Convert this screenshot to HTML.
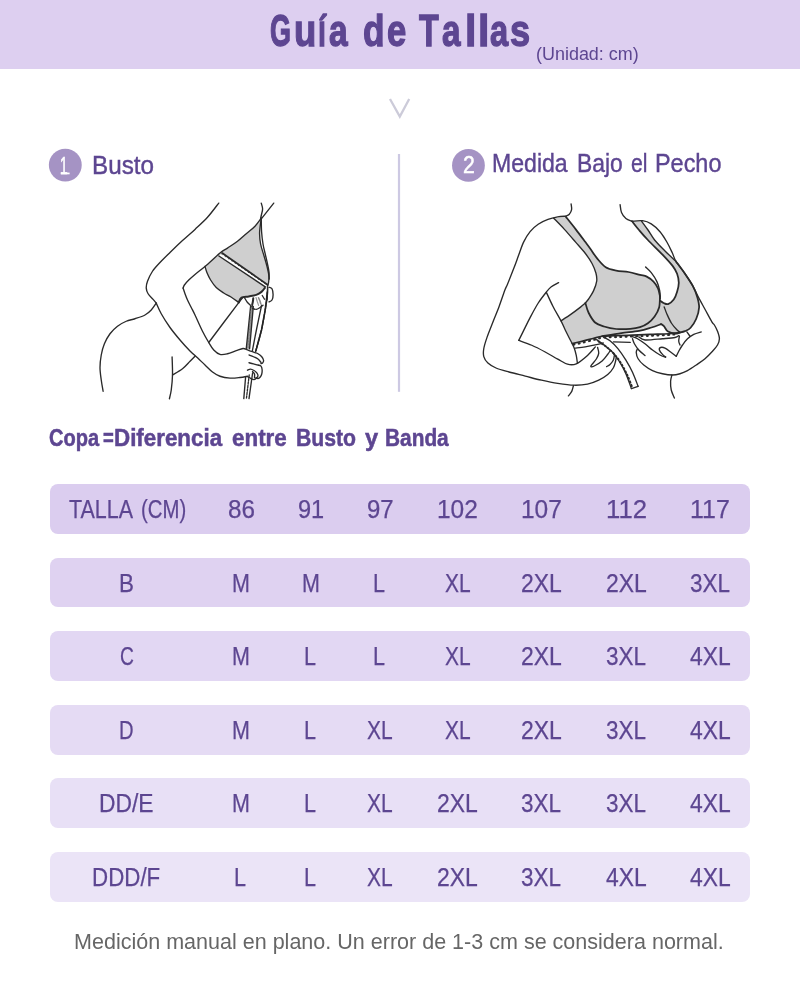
<!DOCTYPE html>
<html lang="es"><head><meta charset="utf-8"><title>Guía de Tallas</title>
<style>
html,body{margin:0;padding:0;background:#fff;}
body{width:800px;height:1000px;position:relative;overflow:hidden;font-family:"Liberation Sans",sans-serif;}
.band{position:absolute;left:0;top:0;width:800px;height:68.6px;background:#ddcff0;}
.t{position:absolute;white-space:nowrap;line-height:1;transform-origin:0 0;display:block;}
.row{position:absolute;left:50px;width:700px;height:49.6px;border-radius:8px;}
svg{position:absolute;left:0;top:0;}
.txt{position:absolute;left:0;top:0;width:800px;height:1000px;will-change:transform;}
</style></head><body>
<div class="band"></div>
<svg width="800" height="1000" viewBox="0 0 800 1000">
<path d="M390 99 L399.8 116.6 L409.2 99" fill="none" stroke="#cccbd9" stroke-width="2.3" stroke-linejoin="miter"/>
<circle cx="65.3" cy="165.1" r="16.45" fill="#a593c4"/>
<circle cx="468.45" cy="165.4" r="16.4" fill="#a593c4"/>
<rect x="60.8" y="172.6" width="8.8" height="1.7" fill="#fff"/>
<rect x="397.9" y="154" width="2.2" height="237.8" fill="#cdc9e3"/>
</svg>
<svg width="800" height="1000" viewBox="0 0 800 1000">
<path d="M261.25 218.10C260.21 219.46 257.50 223.64 255.00 226.25C252.50 228.86 249.17 231.25 246.25 233.75C243.33 236.25 240.62 238.86 237.50 241.25C234.38 243.64 230.42 246.12 227.50 248.10C224.58 250.07 223.75 250.03 220.00 253.10C216.25 256.17 207.50 264.27 205.00 266.50C205.32 267.50 205.97 270.25 206.90 272.50C207.83 274.75 209.04 277.50 210.60 280.00C212.16 282.50 214.06 285.33 216.25 287.50C218.44 289.67 221.29 291.42 223.75 293.00C226.21 294.58 228.50 295.43 231.00 297.00C233.50 298.57 237.46 301.50 238.75 302.40C239.21 301.60 239.83 298.60 241.50 297.60C243.17 296.60 246.29 296.85 248.75 296.40C251.21 295.95 254.12 295.65 256.25 294.90C258.38 294.15 260.07 293.05 261.50 291.90C262.93 290.75 264.25 288.65 264.80 288.00L267.3 286C267.52 285.42 268.36 284.33 268.60 282.50C268.84 280.67 269.03 277.75 268.75 275.00C268.47 272.25 267.73 269.33 266.90 266.00C266.07 262.67 264.80 258.67 263.75 255.00C262.70 251.33 261.29 247.75 260.60 244.00C259.91 240.25 259.49 236.82 259.60 232.50C259.71 228.18 260.98 220.50 261.25 218.10Z" fill="#cfcfcf" stroke="none"/>
<path d="M222.2 253.1L267.9 284.9L265.3 286.9L218.9 256Z" fill="#fff" stroke="none"/>
<path d="M250.6 306.4L246.25 348.75L249.6 348.75L253.3 306.4Z" fill="#9a9a9a"/>
<g fill="none" stroke="#2a2a2a" stroke-width="1.35" stroke-linecap="round" stroke-linejoin="round">
<path d="M218.75 203.10C216.88 205.47 211.46 212.92 207.50 217.30C203.54 221.68 199.17 225.52 195.00 229.40C190.83 233.28 186.67 236.75 182.50 240.60C178.33 244.45 173.75 248.85 170.00 252.50C166.25 256.15 162.92 259.38 160.00 262.50C157.08 265.62 154.58 268.12 152.50 271.25C150.42 274.38 148.54 278.44 147.50 281.25C146.46 284.06 146.15 286.02 146.25 288.10C146.35 290.18 146.96 291.87 148.10 293.75C149.24 295.63 151.74 297.84 153.10 299.40C154.46 300.96 155.72 302.48 156.25 303.10"/>
<path d="M156.25 303.10C157.08 304.88 158.96 309.68 161.25 313.75C163.54 317.82 166.88 323.12 170.00 327.50C173.12 331.88 176.67 336.08 180.00 340.00C183.33 343.92 187.08 348.03 190.00 351.00C192.92 353.97 195.00 355.47 197.50 357.80C200.00 360.13 202.50 362.63 205.00 365.00C207.50 367.37 210.00 370.12 212.50 372.00C215.00 373.88 217.08 375.23 220.00 376.25C222.92 377.27 226.67 377.89 230.00 378.10C233.33 378.31 237.08 377.81 240.00 377.50C242.92 377.19 246.25 376.46 247.50 376.25"/>
<path d="M156.25 303.10C155.42 304.25 153.12 308.02 151.25 310.00C149.38 311.98 147.71 313.54 145.00 315.00C142.29 316.46 138.12 317.71 135.00 318.75C131.88 319.79 129.17 320.00 126.25 321.25C123.33 322.50 120.21 324.17 117.50 326.25C114.79 328.33 112.18 330.83 110.00 333.75C107.82 336.67 105.86 340.21 104.40 343.75C102.94 347.29 101.98 351.04 101.25 355.00C100.52 358.96 100.00 363.33 100.00 367.50C100.00 371.67 100.73 376.04 101.25 380.00C101.77 383.96 102.79 389.38 103.10 391.25"/>
<path d="M261.25 218.10C260.21 219.46 257.50 223.64 255.00 226.25C252.50 228.86 249.17 231.25 246.25 233.75C243.33 236.25 240.62 238.86 237.50 241.25C234.38 243.64 230.42 246.12 227.50 248.10C224.58 250.07 223.75 250.03 220.00 253.10C216.25 256.17 209.17 262.95 205.00 266.50C200.83 270.05 197.71 272.15 195.00 274.40C192.29 276.65 190.52 278.23 188.75 280.00C186.98 281.77 185.34 283.65 184.40 285.00C183.46 286.35 183.32 287.58 183.10 288.10"/>
<path d="M183.10 288.10C183.42 289.04 184.27 291.77 185.00 293.75C185.73 295.73 186.46 297.71 187.50 300.00C188.54 302.29 190.00 305.00 191.25 307.50C192.50 310.00 193.12 311.04 195.00 315.00C196.88 318.96 200.21 326.67 202.50 331.25C204.79 335.83 206.88 339.38 208.75 342.50C210.62 345.62 211.88 348.02 213.75 350.00C215.62 351.98 217.71 353.77 220.00 354.40C222.29 355.02 224.79 354.38 227.50 353.75C230.21 353.12 233.67 351.48 236.25 350.60C238.83 349.73 241.25 348.67 243.00 348.50C244.75 348.33 245.50 349.17 246.75 349.60C248.00 350.03 249.12 350.60 250.50 351.10C251.88 351.60 253.75 352.16 255.00 352.60C256.25 353.04 256.88 353.06 258.00 353.75C259.12 354.44 260.82 355.62 261.75 356.75C262.68 357.88 263.48 359.44 263.60 360.50C263.73 361.56 262.93 362.60 262.50 363.10C262.07 363.60 261.25 363.43 261.00 363.50"/>
<path d="M243.60 297.20C242.79 298.10 244.56 295.05 238.75 302.60C232.94 310.15 213.75 335.85 208.75 342.50"/>
<path d="M172.10 356.90C172.17 359.92 172.64 369.48 172.50 375.00C172.36 380.52 171.77 386.04 171.25 390.00C170.73 393.96 169.71 397.29 169.40 398.75"/>
<path d="M172.50 375.00C174.17 373.96 179.58 371.04 182.50 368.75C185.42 366.46 187.92 363.33 190.00 361.25C192.08 359.17 194.17 357.08 195.00 356.25"/>
<path d="M261.25 203.10C261.48 204.04 262.54 206.93 262.60 208.75C262.66 210.57 261.93 212.38 261.60 214.00C261.27 215.62 260.77 217.75 260.60 218.50"/>
<path d="M273.75 203.10L261.50 218.60"/>
<path d="M261.25 218.10C260.98 220.50 259.71 228.18 259.60 232.50C259.49 236.82 259.91 240.25 260.60 244.00C261.29 247.75 262.70 251.33 263.75 255.00C264.80 258.67 266.07 262.67 266.90 266.00C267.73 269.33 268.47 272.25 268.75 275.00C269.03 277.75 268.84 280.67 268.60 282.50C268.36 284.33 267.52 285.42 267.30 286.00"/>
<path d="M261.25 218.10C261.31 220.42 261.31 227.68 261.60 232.00C261.89 236.32 262.43 240.50 263.00 244.00C263.57 247.50 264.25 249.67 265.00 253.00C265.75 256.33 266.83 260.83 267.50 264.00C268.17 267.17 268.72 269.50 269.00 272.00C269.28 274.50 269.17 277.83 269.20 279.00"/>
<path d="M205.00 266.50C205.32 267.50 205.97 270.25 206.90 272.50C207.83 274.75 209.04 277.50 210.60 280.00C212.16 282.50 214.06 285.33 216.25 287.50C218.44 289.67 221.29 291.42 223.75 293.00C226.21 294.58 228.50 295.43 231.00 297.00C233.50 298.57 237.46 301.50 238.75 302.40"/>
<path d="M238.75 302.40C239.21 301.60 239.83 298.60 241.50 297.60C243.17 296.60 246.29 296.85 248.75 296.40C251.21 295.95 254.12 295.65 256.25 294.90C258.38 294.15 260.07 293.05 261.50 291.90C262.93 290.75 264.25 288.65 264.80 288.00" stroke-width="2"/>
<path d="M250.60 306.40L246.25 348.75"/>
<path d="M253.30 306.40L249.60 348.75"/>
<path d="M245.60 377.00L243.80 398.60"/>
<path d="M252.60 373.00L249.00 398.60"/>
<path d="M267.60 287.00C267.53 288.75 267.60 293.67 267.20 297.50C266.80 301.33 266.15 304.58 265.20 310.00C264.25 315.42 263.10 323.07 261.50 330.00C259.90 336.93 256.58 348.00 255.60 351.60"/>
<path d="M261.60 305.25C260.77 309.21 258.13 321.44 256.60 329.00C255.07 336.56 253.10 347.00 252.40 350.60"/>
<path d="M249.00 354.90C249.75 355.21 252.00 356.07 253.50 356.75C255.00 357.43 256.75 358.06 258.00 359.00C259.25 359.94 260.50 361.83 261.00 362.40"/>
<path d="M249.00 362.75C249.75 362.94 252.00 363.52 253.50 363.90C255.00 364.27 256.75 364.63 258.00 365.00C259.25 365.37 260.32 365.35 261.00 366.10C261.68 366.85 261.98 368.18 262.10 369.50C262.23 370.82 262.06 372.75 261.75 374.00C261.44 375.25 260.88 376.25 260.25 377.00C259.62 377.75 258.71 378.40 258.00 378.50C257.29 378.60 256.33 377.75 256.00 377.60"/>
<path d="M247.50 370.20C248.00 370.03 249.42 369.15 250.50 369.20C251.58 369.25 252.95 369.90 254.00 370.50C255.05 371.10 256.13 371.92 256.80 372.80C257.47 373.68 258.03 374.93 258.00 375.80C257.97 376.67 256.83 377.63 256.60 378.00"/>
<path d="M252.50 371.50C252.83 371.92 254.17 373.00 254.50 374.00C254.83 375.00 254.50 376.92 254.50 377.50"/>
<path d="M247.50 376.60C247.83 376.75 248.83 377.10 249.50 377.50C250.17 377.90 251.17 378.75 251.50 379.00"/>
<path d="M251.50 379.00C251.92 379.10 253.15 379.77 254.00 379.60C254.85 379.43 256.17 378.27 256.60 378.00"/>
<path d="M244.60 297.80C245.08 298.58 246.31 301.07 247.50 302.50C248.69 303.93 251.04 305.75 251.75 306.40"/>
<path d="M252.50 308.25C253.12 308.44 255.00 309.52 256.25 309.40C257.50 309.27 258.88 308.19 260.00 307.50C261.12 306.81 262.50 305.62 263.00 305.25"/>
<path d="M269.00 287.25C269.50 287.50 271.32 287.50 272.00 288.75C272.68 290.00 273.10 292.88 273.10 294.75C273.10 296.62 272.68 298.81 272.00 300.00C271.32 301.19 269.50 301.58 269.00 301.90"/>
<path d="M262.25 295.50L264.50 299.25"/>
<path d="M267.60 287.00C267.57 288.17 267.52 291.83 267.40 294.00C267.28 296.17 266.98 299.00 266.90 300.00"/>
<path d="M251.75 306.40C251.93 305.67 252.55 303.37 252.80 302.00C253.05 300.63 253.18 298.83 253.25 298.20" stroke-width="2"/>
<path d="M258.5 297.75L260 301L260.75 303.8" stroke="#8a8a8a" stroke-width="1.6"/>
<path d="M256 297.5L257.4 302L258.6 305.4" stroke="#9a9a9a" stroke-width="1.2"/>
<path d="M222.20 253.10L267.90 284.90" stroke-width="1.8"/>
<path d="M218.90 256.00L265.30 286.90" stroke-width="1.4"/>
<path d="M221.6 254.0L267.4 285.4" stroke-width="0.9" stroke-dasharray="0.8 3.2" stroke="#333"/>
<path d="M251.4 305L247.9 348.75" stroke-width="0.9" stroke-dasharray="1 2" stroke="#777"/>
<path d="M267.3 292L265.2 310L261.5 330L255.8 351" stroke-width="1.6" stroke-dasharray="2.2 1" stroke="#222"/>
<path d="M249.2 375L246.4 398.6" stroke-width="1.3" stroke-dasharray="2.2 1.3" stroke="#2a2a2a"/>
</g></svg>
<svg width="800" height="1000" viewBox="0 0 800 1000">
<path d="M553.70 218.20C555.45 220.02 560.55 225.12 564.20 229.10C567.85 233.08 572.07 238.03 575.60 242.10C579.13 246.17 582.68 249.97 585.40 253.50C588.12 257.03 590.15 260.05 591.90 263.30C593.65 266.55 595.10 270.03 595.90 273.00C596.70 275.97 597.10 278.12 596.70 281.10C596.30 284.08 594.85 287.92 593.50 290.90C592.15 293.88 589.95 296.98 588.60 299.00C587.25 301.02 585.93 302.33 585.40 303.00C584.58 303.68 582.94 305.20 580.50 307.10C578.06 309.00 574.00 312.10 570.75 314.40C567.50 316.70 562.62 319.82 561.00 320.90L565 329.5L569.5 338.5L572.3 343.6C573.90 343.22 578.43 342.15 581.90 341.30C585.37 340.45 589.73 339.34 593.10 338.50C596.47 337.66 600.60 336.62 602.10 336.25C605.30 335.74 615.13 334.09 621.30 333.20C627.47 332.31 634.07 331.85 639.10 330.90C644.13 329.95 647.83 328.63 651.50 327.50C655.17 326.37 659.50 324.67 661.10 324.10C661.57 324.43 662.75 324.85 663.90 326.10C665.05 327.35 665.93 330.33 668.00 331.60C670.07 332.87 674.40 333.53 676.30 333.70C678.20 333.87 678.88 332.78 679.40 332.60C680.33 332.35 683.13 331.91 685.00 331.10C686.87 330.29 688.73 329.81 690.60 327.75C692.48 325.69 694.83 322.12 696.25 318.75C697.67 315.38 698.91 311.06 699.10 307.50C699.29 303.94 698.43 300.97 697.40 297.40C696.37 293.83 694.97 290.04 692.90 286.10C690.83 282.16 687.82 277.87 685.00 273.75C682.18 269.63 677.50 263.46 676.00 261.40C674.17 259.67 668.57 254.57 665.00 251.00C661.43 247.43 657.43 243.50 654.60 240.00C651.77 236.50 650.17 233.12 648.00 230.00C645.83 226.88 642.67 222.71 641.60 221.25L632 221.25C633.17 222.71 636.35 226.88 639.00 230.00C641.65 233.12 643.98 235.90 647.90 240.00C651.82 244.10 658.38 250.28 662.50 254.60C666.62 258.92 670.17 262.71 672.60 265.90C675.03 269.09 676.07 270.94 677.10 273.75C678.13 276.56 678.80 279.75 678.80 282.75C678.80 285.75 677.94 288.94 677.10 291.75C676.26 294.56 675.25 297.54 673.75 299.60C672.25 301.66 669.79 303.53 668.10 304.10C666.41 304.67 664.91 303.56 663.60 303.00C662.29 302.44 660.81 301.12 660.25 300.75L660 296.25C659.67 294.94 659.08 290.84 658.00 288.40C656.92 285.96 655.38 283.57 653.50 281.60C651.62 279.63 649.00 277.72 646.75 276.60C644.50 275.48 643.04 275.67 640.00 274.90C636.96 274.13 632.46 272.72 628.50 272.00C624.54 271.28 620.04 271.40 616.25 270.60C612.46 269.80 608.91 269.20 605.75 267.20C602.59 265.20 599.88 261.68 597.30 258.60C594.72 255.52 592.28 251.45 590.30 248.70C588.32 245.95 587.85 245.37 585.40 242.10C582.95 238.83 578.85 233.30 575.60 229.10C572.35 224.90 567.52 218.93 565.90 216.90L553.7 218.2Z" fill="#cfcfcf" stroke="none"/>
<path d="M602.10 336.25C603.42 337.00 607.37 338.69 610.00 340.75C612.63 342.81 615.27 345.41 617.90 348.60C620.52 351.79 623.32 355.96 625.75 359.90C628.18 363.84 630.44 367.85 632.50 372.25C634.56 376.65 637.17 383.96 638.10 386.30L631.4 388.6C630.46 386.07 627.82 378.00 625.75 373.40C623.68 368.80 621.25 364.57 619.00 361.00C616.75 357.43 614.68 354.62 612.25 352.00C609.82 349.38 607.02 347.32 604.40 345.25C601.77 343.18 597.82 340.54 596.50 339.60Z" fill="#fff" stroke="none"/>
<path d="M632.5 335.1L650 334.4L668.75 333.75L679.4 332.6L678.75 335.6L675 337.5L662.5 338.75L645 340L638.75 336.9Z" fill="#fff" stroke="none"/>
<g fill="none" stroke="#2a2a2a" stroke-width="1.35" stroke-linecap="round" stroke-linejoin="round">
<path d="M571.10 203.90C571.18 204.85 571.93 207.83 571.60 209.60C571.27 211.37 570.05 213.42 569.10 214.50C568.15 215.58 566.43 215.83 565.90 216.10"/>
<path d="M565.90 216.10C564.53 216.23 560.68 216.35 557.70 216.90C554.72 217.45 551.25 218.18 548.00 219.40C544.75 220.62 541.18 222.17 538.20 224.20C535.22 226.23 532.53 228.62 530.10 231.60C527.67 234.58 525.50 238.18 523.60 242.10C521.70 246.02 520.32 250.77 518.70 255.10C517.08 259.43 515.78 263.22 513.90 268.10C512.02 272.98 508.90 280.75 507.40 284.40C505.90 288.05 506.27 286.36 504.90 290.00C503.53 293.64 501.22 300.83 499.20 306.25C497.18 311.67 494.77 317.36 492.75 322.50C490.73 327.64 488.59 332.77 487.10 337.10C485.61 341.43 484.35 345.25 483.80 348.50C483.25 351.75 483.12 354.17 483.80 356.60C484.48 359.03 485.87 361.20 487.90 363.10C489.93 365.00 492.48 366.52 496.00 368.00C499.52 369.48 504.12 370.65 509.00 372.00C513.88 373.35 519.83 374.73 525.25 376.10C530.67 377.47 536.08 378.98 541.50 380.20C546.92 381.42 552.33 382.57 557.75 383.40C563.17 384.23 569.04 385.08 574.00 385.20C578.96 385.32 583.38 384.95 587.50 384.10C591.62 383.25 595.38 381.70 598.75 380.10C602.12 378.50 605.31 376.56 607.75 374.50C610.19 372.44 612.09 370.00 613.40 367.75C614.71 365.50 615.13 362.69 615.60 361.00C616.07 359.31 616.10 358.17 616.20 357.60"/>
<path d="M553.70 218.20C555.45 220.02 560.55 225.12 564.20 229.10C567.85 233.08 572.07 238.03 575.60 242.10C579.13 246.17 582.68 249.97 585.40 253.50C588.12 257.03 590.15 260.05 591.90 263.30C593.65 266.55 595.10 270.03 595.90 273.00C596.70 275.97 597.10 278.12 596.70 281.10C596.30 284.08 594.85 287.92 593.50 290.90C592.15 293.88 589.95 296.98 588.60 299.00C587.25 301.02 585.93 302.33 585.40 303.00"/>
<path d="M585.40 303.00C584.58 303.68 582.94 305.20 580.50 307.10C578.06 309.00 574.00 312.10 570.75 314.40C567.50 316.70 562.62 319.82 561.00 320.90"/>
<path d="M565.90 216.90C567.52 218.93 572.35 224.90 575.60 229.10C578.85 233.30 582.95 238.83 585.40 242.10C587.85 245.37 588.32 245.95 590.30 248.70C592.28 251.45 594.72 255.52 597.30 258.60C599.88 261.68 602.59 265.20 605.75 267.20C608.91 269.20 612.46 269.80 616.25 270.60C620.04 271.40 624.54 271.28 628.50 272.00C632.46 272.72 636.96 274.13 640.00 274.90C643.04 275.67 644.50 275.48 646.75 276.60C649.00 277.72 651.62 279.63 653.50 281.60C655.38 283.57 656.92 285.96 658.00 288.40C659.08 290.84 659.67 294.94 660.00 296.25" stroke-width="1.75"/>
<path d="M660.00 296.25C659.85 298.12 660.00 304.12 659.10 307.50C658.20 310.88 656.47 313.88 654.60 316.50C652.73 319.12 650.33 321.47 647.90 323.25C645.47 325.03 642.94 326.26 640.00 327.20C637.06 328.14 634.21 328.60 630.25 328.90C626.29 329.20 620.62 329.40 616.25 329.00C611.88 328.60 607.52 327.58 604.00 326.50C600.48 325.42 597.67 324.79 595.10 322.50C592.53 320.21 590.22 316.00 588.60 312.75C586.98 309.50 585.93 304.62 585.40 303.00" stroke-width="1.75"/>
<path d="M645.60 267.00C646.54 267.93 649.37 270.17 651.25 272.60C653.13 275.03 655.49 278.60 656.90 281.60C658.31 284.60 659.14 287.78 659.70 290.60C660.26 293.42 660.16 297.18 660.25 298.50"/>
<path d="M558.60 282.70C557.38 283.38 553.33 285.25 551.30 286.80C549.27 288.35 548.57 289.30 546.40 292.00C544.23 294.70 540.97 298.73 538.25 303.00C535.53 307.27 532.54 313.00 530.10 317.60C527.66 322.20 525.49 326.80 523.60 330.60C521.71 334.40 519.56 338.77 518.75 340.40"/>
<path d="M546.40 292.40C547.48 294.71 550.47 301.50 552.90 306.25C555.33 311.00 558.98 317.02 561.00 320.90C563.02 324.77 563.58 326.57 565.00 329.50C566.42 332.43 568.00 335.50 569.50 338.50C571.00 341.50 572.88 344.68 574.00 347.50C575.12 350.32 575.68 352.77 576.25 355.40C576.82 358.02 577.21 361.94 577.40 363.25"/>
<path d="M518.75 340.40C520.92 341.21 527.42 343.36 531.75 345.25C536.08 347.14 540.42 349.44 544.75 351.75C549.08 354.06 553.96 357.03 557.75 359.10C561.54 361.18 564.42 363.42 567.50 364.20C570.58 364.98 572.92 365.27 576.25 363.80C579.58 362.33 584.31 358.22 587.50 355.40C590.69 352.58 594.08 348.32 595.40 346.90"/>
<path d="M573.40 385.75C573.12 386.69 572.58 389.71 571.75 391.40C570.92 393.09 568.96 395.15 568.40 395.90"/>
<path d="M572.30 343.60C573.90 343.22 578.43 342.15 581.90 341.30C585.37 340.45 589.73 339.34 593.10 338.50C596.47 337.66 598.35 336.72 602.10 336.25C605.85 335.78 610.53 335.89 615.60 335.70C620.67 335.51 626.77 335.32 632.50 335.10C638.23 334.88 643.96 334.62 650.00 334.40C656.04 334.17 663.85 334.05 668.75 333.75C673.65 333.45 677.62 332.79 679.40 332.60" stroke-width="1.75"/>
<path d="M602.10 336.25C605.30 335.74 615.13 334.09 621.30 333.20C627.47 332.31 634.07 331.85 639.10 330.90C644.13 329.95 647.83 328.63 651.50 327.50C655.17 326.37 659.50 324.67 661.10 324.10" stroke-width="1.75"/>
<path d="M661.10 324.10C661.57 324.43 662.75 324.85 663.90 326.10C665.05 327.35 665.93 330.33 668.00 331.60C670.07 332.87 674.40 333.53 676.30 333.70C678.20 333.87 678.88 332.78 679.40 332.60" stroke-width="1.75"/>
<path d="M632.00 221.25C633.17 222.71 636.35 226.88 639.00 230.00C641.65 233.12 643.98 235.90 647.90 240.00C651.82 244.10 658.38 250.28 662.50 254.60C666.62 258.92 670.17 262.71 672.60 265.90C675.03 269.09 676.07 270.94 677.10 273.75C678.13 276.56 678.80 279.75 678.80 282.75C678.80 285.75 677.94 288.94 677.10 291.75C676.26 294.56 675.25 297.54 673.75 299.60C672.25 301.66 669.79 303.53 668.10 304.10C666.41 304.67 664.91 303.56 663.60 303.00C662.29 302.44 660.81 301.12 660.25 300.75" stroke-width="1.75"/>
<path d="M641.60 221.25C642.67 222.71 645.83 226.88 648.00 230.00C650.17 233.12 651.77 236.50 654.60 240.00C657.43 243.50 661.43 247.43 665.00 251.00C668.57 254.57 674.17 259.67 676.00 261.40"/>
<path d="M676.00 261.40C677.50 263.46 682.18 269.63 685.00 273.75C687.82 277.87 690.83 282.16 692.90 286.10C694.97 290.04 696.37 293.83 697.40 297.40C698.43 300.97 699.29 303.94 699.10 307.50C698.91 311.06 697.67 315.38 696.25 318.75C694.83 322.12 692.48 325.69 690.60 327.75C688.73 329.81 686.87 330.29 685.00 331.10C683.13 331.91 680.33 332.35 679.40 332.60" stroke-width="1.75"/>
<path d="M664.20 306.90C664.67 308.12 665.78 311.52 667.00 314.25C668.22 316.98 669.82 320.62 671.50 323.25C673.18 325.88 675.60 328.46 677.10 330.00C678.60 331.54 679.93 332.08 680.50 332.50"/>
<path d="M620.10 204.60C620.33 205.92 620.53 210.17 621.50 212.50C622.47 214.83 624.15 217.14 625.90 218.60C627.65 220.06 630.98 220.81 632.00 221.25"/>
<path d="M632.00 221.25C633.75 221.16 639.29 220.26 642.50 220.70C645.71 221.14 648.33 222.06 651.25 223.90C654.17 225.74 657.38 228.69 660.00 231.75C662.62 234.81 664.96 238.75 667.00 242.25C669.04 245.75 670.75 249.56 672.25 252.75C673.75 255.94 673.88 257.90 676.00 261.40C678.12 264.90 682.18 269.63 685.00 273.75C687.82 277.87 690.65 282.16 692.90 286.10C695.15 290.04 696.44 293.46 698.50 297.40C700.56 301.34 703.00 305.63 705.25 309.75C707.50 313.87 710.48 319.56 712.00 322.10C713.52 324.64 713.48 323.48 714.40 325.00C715.32 326.52 716.67 328.96 717.50 331.25C718.33 333.54 719.40 336.46 719.40 338.75C719.40 341.04 718.65 342.92 717.50 345.00C716.35 347.08 714.58 348.96 712.50 351.25C710.42 353.54 707.71 356.46 705.00 358.75C702.29 361.04 699.17 363.02 696.25 365.00C693.33 366.98 690.21 369.14 687.50 370.60C684.79 372.06 682.50 373.02 680.00 373.75C677.50 374.48 675.42 375.00 672.50 375.00C669.58 375.00 665.83 374.48 662.50 373.75C659.17 373.02 655.62 372.06 652.50 370.60C649.38 369.14 646.15 366.98 643.75 365.00C641.35 363.02 639.35 360.83 638.10 358.75C636.85 356.67 636.35 354.17 636.25 352.50C636.15 350.83 637.29 349.38 637.50 348.75"/>
<path d="M671.90 375.00C671.68 376.04 670.71 378.75 670.60 381.25C670.49 383.75 670.62 387.19 671.25 390.00C671.88 392.81 673.88 396.75 674.40 398.10"/>
<path d="M701.25 331.90C700.00 332.32 696.04 333.26 693.75 334.40C691.46 335.54 689.38 336.98 687.50 338.75C685.62 340.52 683.96 342.92 682.50 345.00C681.04 347.08 679.79 349.38 678.75 351.25C677.71 353.12 676.67 355.42 676.25 356.25"/>
<path d="M676.25 356.25C675.42 355.62 673.12 353.86 671.25 352.50C669.38 351.14 666.77 348.93 665.00 348.10C663.23 347.27 661.53 347.18 660.60 347.50C659.67 347.82 659.08 348.85 659.40 350.00C659.72 351.15 661.47 353.25 662.50 354.40C663.53 355.55 665.08 356.48 665.60 356.90"/>
<path d="M633.10 336.90C633.83 337.21 635.52 337.61 637.50 338.75C639.48 339.89 642.50 341.88 645.00 343.75C647.50 345.62 650.00 348.12 652.50 350.00C655.00 351.88 657.82 353.79 660.00 355.00C662.18 356.21 664.67 356.88 665.60 357.25"/>
<path d="M632.50 338.75C632.82 339.58 633.36 341.88 634.40 343.75C635.44 345.62 636.98 348.02 638.75 350.00C640.52 351.98 643.96 354.67 645.00 355.60"/>
<path d="M679.40 336.25C679.29 337.08 678.65 339.79 678.75 341.25C678.85 342.71 679.79 344.38 680.00 345.00"/>
<path d="M686.90 331.90L690.00 336.25"/>
<path d="M575.10 348.10C576.79 347.90 581.68 347.47 585.25 346.90C588.82 346.33 593.50 345.35 596.50 344.70C599.50 344.05 602.12 343.28 603.25 343.00"/>
<path d="M602.10 336.25C603.42 337.00 607.37 338.69 610.00 340.75C612.63 342.81 615.27 345.41 617.90 348.60C620.52 351.79 623.32 355.96 625.75 359.90C628.18 363.84 630.44 367.85 632.50 372.25C634.56 376.65 637.17 383.96 638.10 386.30"/>
<path d="M596.50 339.60C597.82 340.54 601.77 343.18 604.40 345.25C607.02 347.32 609.82 349.38 612.25 352.00C614.68 354.62 616.75 357.43 619.00 361.00C621.25 364.57 623.68 368.80 625.75 373.40C627.82 378.00 630.46 386.07 631.40 388.60"/>
<path d="M631.40 388.60L638.10 386.30"/>
<path d="M613.40 341.90L630.25 342.40"/>
<path d="M638.75 336.90C639.79 337.42 641.04 339.69 645.00 340.00C648.96 340.31 657.50 339.17 662.50 338.75C667.50 338.33 672.29 338.02 675.00 337.50C677.71 336.98 678.12 335.92 678.75 335.60"/>
<path d="M597.60 347.50C597.79 348.43 598.93 351.23 598.75 353.10C598.57 354.98 597.62 356.87 596.50 358.75C595.38 360.63 592.93 363.09 592.00 364.40C591.07 365.71 590.52 366.33 590.90 366.60C591.27 366.87 592.38 366.93 594.25 366.00C596.12 365.07 599.85 362.96 602.10 361.00C604.35 359.04 606.43 355.93 607.75 354.25C609.07 352.57 609.62 351.46 610.00 350.90"/>
<path d="M614.50 354.25C614.32 355.19 614.15 358.21 613.40 359.90C612.65 361.59 611.13 363.28 610.00 364.40C608.87 365.52 607.17 366.23 606.60 366.60"/>
<path d="M573.60 344.70C575.10 344.35 579.27 343.40 582.60 342.60C585.93 341.80 590.27 340.73 593.60 339.90C596.93 339.07 598.87 338.08 602.60 337.60C606.33 337.12 611.02 337.20 616.00 337.00C620.98 336.80 626.83 336.62 632.50 336.40C638.17 336.18 644.08 335.93 650.00 335.70C655.92 335.47 663.50 335.28 668.00 335.00C672.50 334.72 675.50 334.17 677.00 334.00" stroke-width="2.2" stroke-dasharray="0.9 4.4"/>
<path d="M598.50 341.40C599.75 342.27 603.48 344.60 606.00 346.60C608.52 348.60 611.20 350.80 613.60 353.40C616.00 356.00 618.17 358.70 620.40 362.20C622.63 365.70 625.00 370.17 627.00 374.40C629.00 378.63 631.50 385.40 632.40 387.60" stroke-width="1.9" stroke-dasharray="1.3 2.4"/>
</g></svg>
<div class="row" style="top:484.2px;background:#dbcdef"></div>
<div class="row" style="top:557.9px;background:#dfd2f1"></div>
<div class="row" style="top:631.3px;background:#e2d7f3"></div>
<div class="row" style="top:705.0px;background:#e5dbf4"></div>
<div class="row" style="top:778.2px;background:#e8e0f6"></div>
<div class="row" style="top:852.0px;background:#ebe4f7"></div>
<div class="txt">
<span class="t" style="left:535.66px;top:45.83px;font-size:17.68px;font-weight:400;color:#5d4691;transform:scaleX(1.0155)">(Unidad: cm)</span>
<span class="t" style="left:91.59px;top:153.38px;font-size:25.36px;font-weight:400;color:#5d4691;transform:scaleX(0.9575);-webkit-text-stroke:0.40px #5d4691">Busto</span>
<span class="t" style="left:492.38px;top:151.38px;font-size:25.36px;font-weight:400;color:#5d4691;transform:scaleX(0.9100);-webkit-text-stroke:0.40px #5d4691">Medida</span>
<span class="t" style="left:576.59px;top:151.38px;font-size:25.36px;font-weight:400;color:#5d4691;transform:scaleX(0.9013);-webkit-text-stroke:0.40px #5d4691">Bajo</span>
<span class="t" style="left:631.41px;top:151.38px;font-size:25.36px;font-weight:400;color:#5d4691;transform:scaleX(0.8317);-webkit-text-stroke:0.40px #5d4691">el</span>
<span class="t" style="left:655.25px;top:151.38px;font-size:25.36px;font-weight:400;color:#5d4691;transform:scaleX(0.9235);-webkit-text-stroke:0.40px #5d4691">Pecho</span>
<span class="t" style="left:60.41px;top:154.38px;font-size:23.77px;font-weight:400;color:#ffffff;transform:scaleX(0.5805);-webkit-text-stroke:0.60px #ffffff">1</span>
<span class="t" style="left:463.23px;top:154.35px;font-size:23.62px;font-weight:400;color:#ffffff;transform:scaleX(0.8986);-webkit-text-stroke:0.50px #ffffff">2</span>
<span class="t" style="left:48.69px;top:426.60px;font-size:23.33px;font-weight:700;color:#5d4691;transform:scaleX(0.8583);-webkit-text-stroke:0.50px #5d4691">Copa</span>
<span class="t" style="left:103.42px;top:426.60px;font-size:23.33px;font-weight:700;color:#5d4691;transform:scaleX(0.7900);-webkit-text-stroke:0.50px #5d4691">=</span>
<span class="t" style="left:114.44px;top:426.60px;font-size:23.33px;font-weight:700;color:#5d4691;transform:scaleX(0.9579);-webkit-text-stroke:0.50px #5d4691">Diferencia</span>
<span class="t" style="left:232.14px;top:426.60px;font-size:23.33px;font-weight:700;color:#5d4691;transform:scaleX(0.9601);-webkit-text-stroke:0.50px #5d4691">entre</span>
<span class="t" style="left:296.00px;top:426.60px;font-size:23.33px;font-weight:700;color:#5d4691;transform:scaleX(0.9086);-webkit-text-stroke:0.50px #5d4691">Busto</span>
<span class="t" style="left:364.85px;top:426.60px;font-size:23.33px;font-weight:700;color:#5d4691;transform:scaleX(1.0128);-webkit-text-stroke:0.50px #5d4691">y</span>
<span class="t" style="left:385.42px;top:426.60px;font-size:23.33px;font-weight:700;color:#5d4691;transform:scaleX(0.8936);-webkit-text-stroke:0.50px #5d4691">Banda</span>
<span class="t" style="left:74.42px;top:929.92px;font-size:22.90px;font-weight:400;color:#666666;transform:scaleX(0.9404)">Medición manual en plano. Un error de 1-3 cm se considera normal.</span>
<span class="t" style="left:270.15px;top:8.92px;font-size:44.93px;font-weight:700;color:#5d4691;transform:scaleX(0.5996);-webkit-text-stroke:1.30px #5d4691">G</span>
<span class="t" style="left:293.92px;top:8.92px;font-size:44.93px;font-weight:700;color:#5d4691;transform:scaleX(0.8122);-webkit-text-stroke:1.30px #5d4691">u</span>
<span class="t" style="left:318.48px;top:8.92px;font-size:44.93px;font-weight:700;color:#5d4691;transform:scaleX(0.6347);-webkit-text-stroke:1.30px #5d4691">í</span>
<span class="t" style="left:329.36px;top:8.92px;font-size:44.93px;font-weight:700;color:#5d4691;transform:scaleX(0.7460);-webkit-text-stroke:1.30px #5d4691">a</span>
<span class="t" style="left:363.31px;top:8.92px;font-size:44.93px;font-weight:700;color:#5d4691;transform:scaleX(0.7848);-webkit-text-stroke:1.30px #5d4691">d</span>
<span class="t" style="left:386.72px;top:8.92px;font-size:44.93px;font-weight:700;color:#5d4691;transform:scaleX(0.7701);-webkit-text-stroke:1.30px #5d4691">e</span>
<span class="t" style="left:419.47px;top:8.92px;font-size:44.93px;font-weight:700;color:#5d4691;transform:scaleX(0.7183);-webkit-text-stroke:1.30px #5d4691">T</span>
<span class="t" style="left:442.36px;top:8.92px;font-size:44.93px;font-weight:700;color:#5d4691;transform:scaleX(0.7422);-webkit-text-stroke:1.30px #5d4691">a</span>
<span class="t" style="left:465.23px;top:8.92px;font-size:44.93px;font-weight:700;color:#5d4691;transform:scaleX(0.9135);-webkit-text-stroke:1.30px #5d4691">l</span>
<span class="t" style="left:477.63px;top:8.92px;font-size:44.93px;font-weight:700;color:#5d4691;transform:scaleX(0.9135);-webkit-text-stroke:1.30px #5d4691">l</span>
<span class="t" style="left:489.56px;top:8.92px;font-size:44.93px;font-weight:700;color:#5d4691;transform:scaleX(0.7267);-webkit-text-stroke:1.30px #5d4691">a</span>
<span class="t" style="left:510.39px;top:8.92px;font-size:44.93px;font-weight:700;color:#5d4691;transform:scaleX(0.8065);-webkit-text-stroke:1.30px #5d4691">s</span>
<span class="t" style="left:68.67px;top:496.99px;font-size:25.43px;font-weight:400;color:#5d4691;transform:scaleX(0.8451);-webkit-text-stroke:0.25px #5d4691">TALLA</span>
<span class="t" style="left:140.75px;top:496.99px;font-size:25.43px;font-weight:400;color:#5d4691;transform:scaleX(0.8002);-webkit-text-stroke:0.25px #5d4691">(CM)</span>
<span class="t" style="left:227.61px;top:496.99px;font-size:25.43px;font-weight:400;color:#5d4691;transform:scaleX(0.9545);-webkit-text-stroke:0.25px #5d4691">86</span>
<span class="t" style="left:297.81px;top:496.99px;font-size:25.43px;font-weight:400;color:#5d4691;transform:scaleX(0.9271);-webkit-text-stroke:0.25px #5d4691">91</span>
<span class="t" style="left:366.59px;top:496.99px;font-size:25.43px;font-weight:400;color:#5d4691;transform:scaleX(0.9423);-webkit-text-stroke:0.25px #5d4691">97</span>
<span class="t" style="left:437.29px;top:496.99px;font-size:25.43px;font-weight:400;color:#5d4691;transform:scaleX(0.9634);-webkit-text-stroke:0.25px #5d4691">102</span>
<span class="t" style="left:520.79px;top:496.99px;font-size:25.43px;font-weight:400;color:#5d4691;transform:scaleX(0.9634);-webkit-text-stroke:0.25px #5d4691">107</span>
<span class="t" style="left:605.72px;top:496.99px;font-size:25.43px;font-weight:400;color:#5d4691;transform:scaleX(1.0110);-webkit-text-stroke:0.25px #5d4691">112</span>
<span class="t" style="left:689.81px;top:496.99px;font-size:25.43px;font-weight:400;color:#5d4691;transform:scaleX(0.9822);-webkit-text-stroke:0.25px #5d4691">117</span>
<span class="t" style="left:119.11px;top:570.69px;font-size:25.43px;font-weight:400;color:#5d4691;transform:scaleX(0.8828);-webkit-text-stroke:0.25px #5d4691">B</span>
<span class="t" style="left:231.93px;top:570.69px;font-size:25.43px;font-weight:400;color:#5d4691;transform:scaleX(0.8457);-webkit-text-stroke:0.25px #5d4691">M</span>
<span class="t" style="left:301.93px;top:570.69px;font-size:25.43px;font-weight:400;color:#5d4691;transform:scaleX(0.8457);-webkit-text-stroke:0.25px #5d4691">M</span>
<span class="t" style="left:373.42px;top:570.69px;font-size:25.43px;font-weight:400;color:#5d4691;transform:scaleX(0.8492);-webkit-text-stroke:0.25px #5d4691">L</span>
<span class="t" style="left:445.28px;top:570.69px;font-size:25.43px;font-weight:400;color:#5d4691;transform:scaleX(0.8243);-webkit-text-stroke:0.25px #5d4691">XL</span>
<span class="t" style="left:520.84px;top:570.69px;font-size:25.43px;font-weight:400;color:#5d4691;transform:scaleX(0.9020);-webkit-text-stroke:0.25px #5d4691">2XL</span>
<span class="t" style="left:605.84px;top:570.69px;font-size:25.43px;font-weight:400;color:#5d4691;transform:scaleX(0.9020);-webkit-text-stroke:0.25px #5d4691">2XL</span>
<span class="t" style="left:689.91px;top:570.69px;font-size:25.43px;font-weight:400;color:#5d4691;transform:scaleX(0.8848);-webkit-text-stroke:0.25px #5d4691">3XL</span>
<span class="t" style="left:119.94px;top:644.09px;font-size:25.43px;font-weight:400;color:#5d4691;transform:scaleX(0.7556);-webkit-text-stroke:0.25px #5d4691">C</span>
<span class="t" style="left:231.93px;top:644.09px;font-size:25.43px;font-weight:400;color:#5d4691;transform:scaleX(0.8457);-webkit-text-stroke:0.25px #5d4691">M</span>
<span class="t" style="left:304.42px;top:644.09px;font-size:25.43px;font-weight:400;color:#5d4691;transform:scaleX(0.8492);-webkit-text-stroke:0.25px #5d4691">L</span>
<span class="t" style="left:373.42px;top:644.09px;font-size:25.43px;font-weight:400;color:#5d4691;transform:scaleX(0.8492);-webkit-text-stroke:0.25px #5d4691">L</span>
<span class="t" style="left:445.28px;top:644.09px;font-size:25.43px;font-weight:400;color:#5d4691;transform:scaleX(0.8243);-webkit-text-stroke:0.25px #5d4691">XL</span>
<span class="t" style="left:520.84px;top:644.09px;font-size:25.43px;font-weight:400;color:#5d4691;transform:scaleX(0.9020);-webkit-text-stroke:0.25px #5d4691">2XL</span>
<span class="t" style="left:606.41px;top:644.09px;font-size:25.43px;font-weight:400;color:#5d4691;transform:scaleX(0.8848);-webkit-text-stroke:0.25px #5d4691">3XL</span>
<span class="t" style="left:689.75px;top:644.09px;font-size:25.43px;font-weight:400;color:#5d4691;transform:scaleX(0.8994);-webkit-text-stroke:0.25px #5d4691">4XL</span>
<span class="t" style="left:119.27px;top:717.79px;font-size:25.43px;font-weight:400;color:#5d4691;transform:scaleX(0.7937);-webkit-text-stroke:0.25px #5d4691">D</span>
<span class="t" style="left:231.93px;top:717.79px;font-size:25.43px;font-weight:400;color:#5d4691;transform:scaleX(0.8457);-webkit-text-stroke:0.25px #5d4691">M</span>
<span class="t" style="left:304.42px;top:717.79px;font-size:25.43px;font-weight:400;color:#5d4691;transform:scaleX(0.8492);-webkit-text-stroke:0.25px #5d4691">L</span>
<span class="t" style="left:367.28px;top:717.79px;font-size:25.43px;font-weight:400;color:#5d4691;transform:scaleX(0.8243);-webkit-text-stroke:0.25px #5d4691">XL</span>
<span class="t" style="left:445.28px;top:717.79px;font-size:25.43px;font-weight:400;color:#5d4691;transform:scaleX(0.8243);-webkit-text-stroke:0.25px #5d4691">XL</span>
<span class="t" style="left:520.84px;top:717.79px;font-size:25.43px;font-weight:400;color:#5d4691;transform:scaleX(0.9020);-webkit-text-stroke:0.25px #5d4691">2XL</span>
<span class="t" style="left:606.41px;top:717.79px;font-size:25.43px;font-weight:400;color:#5d4691;transform:scaleX(0.8848);-webkit-text-stroke:0.25px #5d4691">3XL</span>
<span class="t" style="left:689.75px;top:717.79px;font-size:25.43px;font-weight:400;color:#5d4691;transform:scaleX(0.8994);-webkit-text-stroke:0.25px #5d4691">4XL</span>
<span class="t" style="left:99.33px;top:790.99px;font-size:25.43px;font-weight:400;color:#5d4691;transform:scaleX(0.8971);-webkit-text-stroke:0.25px #5d4691">DD/E</span>
<span class="t" style="left:231.93px;top:790.99px;font-size:25.43px;font-weight:400;color:#5d4691;transform:scaleX(0.8457);-webkit-text-stroke:0.25px #5d4691">M</span>
<span class="t" style="left:304.42px;top:790.99px;font-size:25.43px;font-weight:400;color:#5d4691;transform:scaleX(0.8492);-webkit-text-stroke:0.25px #5d4691">L</span>
<span class="t" style="left:367.28px;top:790.99px;font-size:25.43px;font-weight:400;color:#5d4691;transform:scaleX(0.8243);-webkit-text-stroke:0.25px #5d4691">XL</span>
<span class="t" style="left:437.34px;top:790.99px;font-size:25.43px;font-weight:400;color:#5d4691;transform:scaleX(0.9020);-webkit-text-stroke:0.25px #5d4691">2XL</span>
<span class="t" style="left:521.41px;top:790.99px;font-size:25.43px;font-weight:400;color:#5d4691;transform:scaleX(0.8848);-webkit-text-stroke:0.25px #5d4691">3XL</span>
<span class="t" style="left:606.41px;top:790.99px;font-size:25.43px;font-weight:400;color:#5d4691;transform:scaleX(0.8848);-webkit-text-stroke:0.25px #5d4691">3XL</span>
<span class="t" style="left:689.75px;top:790.99px;font-size:25.43px;font-weight:400;color:#5d4691;transform:scaleX(0.8994);-webkit-text-stroke:0.25px #5d4691">4XL</span>
<span class="t" style="left:92.36px;top:864.79px;font-size:25.43px;font-weight:400;color:#5d4691;transform:scaleX(0.8784);-webkit-text-stroke:0.25px #5d4691">DDD/F</span>
<span class="t" style="left:234.42px;top:864.79px;font-size:25.43px;font-weight:400;color:#5d4691;transform:scaleX(0.8492);-webkit-text-stroke:0.25px #5d4691">L</span>
<span class="t" style="left:304.42px;top:864.79px;font-size:25.43px;font-weight:400;color:#5d4691;transform:scaleX(0.8492);-webkit-text-stroke:0.25px #5d4691">L</span>
<span class="t" style="left:367.28px;top:864.79px;font-size:25.43px;font-weight:400;color:#5d4691;transform:scaleX(0.8243);-webkit-text-stroke:0.25px #5d4691">XL</span>
<span class="t" style="left:437.34px;top:864.79px;font-size:25.43px;font-weight:400;color:#5d4691;transform:scaleX(0.9020);-webkit-text-stroke:0.25px #5d4691">2XL</span>
<span class="t" style="left:521.41px;top:864.79px;font-size:25.43px;font-weight:400;color:#5d4691;transform:scaleX(0.8848);-webkit-text-stroke:0.25px #5d4691">3XL</span>
<span class="t" style="left:606.25px;top:864.79px;font-size:25.43px;font-weight:400;color:#5d4691;transform:scaleX(0.8994);-webkit-text-stroke:0.25px #5d4691">4XL</span>
<span class="t" style="left:689.75px;top:864.79px;font-size:25.43px;font-weight:400;color:#5d4691;transform:scaleX(0.8994);-webkit-text-stroke:0.25px #5d4691">4XL</span>
</div>
</body></html>
